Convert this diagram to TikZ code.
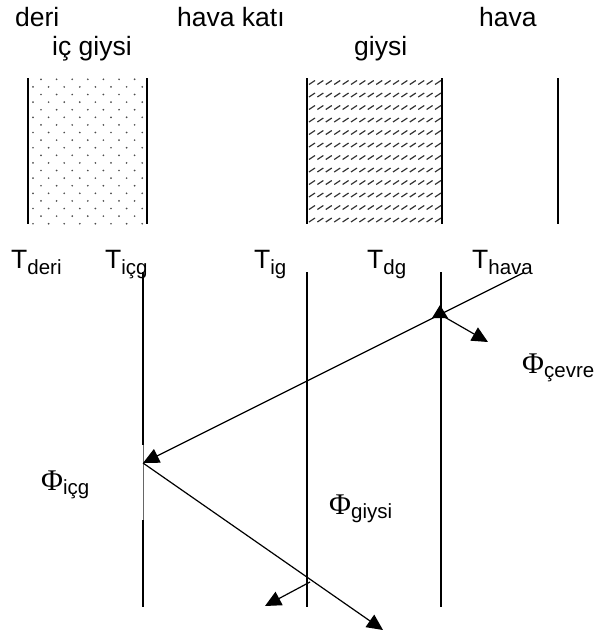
\documentclass[tikz,border=0pt]{standalone}
\usepackage{fontspec}
\setmainfont{Liberation Sans}
\newfontfamily\phifont{Liberation Serif}
\usetikzlibrary{arrows.meta}
\newcommand{\mysub}[1]{\raisebox{-6.5pt}{\fontsize{20.5}{20.5}\selectfont #1}}
\newcommand{\Tlab}[1]{T\mysub{#1}}
\newcommand{\Philab}[1]{{\phifont\fontsize{30}{30}\selectfont Φ}\raisebox{-4.5pt}{\fontsize{20.5}{20.5}\selectfont #1}}
\begin{document}
\begin{tikzpicture}[x=1pt,y=-1pt,
  lbl/.style={anchor=base west,inner sep=0,font=\fontsize{26.5}{30}\selectfont},
  wall/.style={line width=1.6pt},
  gridline/.style={line width=1.2pt},
  flow/.style={line width=1.2pt,-{Triangle[length=16pt,width=15pt]}}]
\useasboundingbox (0,0) rectangle (598,637);
% labels
\node[lbl] (deri) at (15,27) {deri};
\node[lbl] (icgiysi) at (52,55) {iç giysi};
\node[lbl] (havakati) at (177,27) {hava katı};
\node[lbl] (giysi) at (354,55) {giysi};
\node[lbl] (hava) at (479,27) {hava};
\node[lbl] (Tderi) at (11,268) {\Tlab{deri}};
\node[lbl] (Ticg) at (105,268) {\Tlab{içg}};
\node[lbl] (Tig) at (254,268) {\Tlab{ig}};
\node[lbl] (Tdg) at (367,268) {\Tlab{dg}};
\node[lbl] (Thava) at (472,268) {\Tlab{hava}};
\node[lbl] (Phicevre) at (522,373) {\Philab{çevre}};
\node[lbl] (Phiicg) at (41,490) {\Philab{içg}};
\node[lbl] (Phigiysi) at (329,514) {\Philab{giysi}};
% dotted layer
\begin{scope}
\clip (28,78) rectangle (147,224);
\foreach \i in {0,...,19} {
  \pgfmathsetmacro\yy{79.3+7.6*\i}
  \pgfmathsetmacro\xo{mod(\i,2)==0 ? 41 : 33}
  \foreach \j in {0,...,7} { \fill[black!70] (\xo+15.6*\j,\yy) circle[radius=0.95]; }
}
\end{scope}
% hatched layer
\begin{scope}
\clip (307,78) rectangle (442,224);
\foreach \k in {0,...,11} {
  \pgfmathsetmacro\yy{82.5+12.5*\k}
  \foreach \j in {0,...,16} { \draw[black!80,line width=1.2pt] (309+8.4*\j,\yy+2) -- ++(6,-4); }
}
\end{scope}
% walls
\draw[wall] (28,78) -- (28,224);
\draw[wall] (147,78) -- (147,224);
\draw[wall] (307,78) -- (307,224);
\draw[wall] (442,78) -- (442,224);
\draw[wall] (558,78) -- (558,224);
% temperature lines
\draw[gridline] (143,272) -- (143,445);
\draw[line width=0.4pt,black!60] (143,445) -- (143,520);
\draw[gridline] (143,520) -- (143,607);
\draw[gridline] (307,272) -- (307,607);
\draw[gridline] (441,272) -- (441,607);
% flows
\coordinate (hv) at (523,273);
\coordinate (pi) at (143,463);
\coordinate (pe) at (383,630);
\coordinate (x1) at (441,315);
\coordinate (c1) at (488,342);
\coordinate (x2) at (310,582);
\coordinate (g1) at (265,606);
\draw[flow] (hv) -- (pi);
\draw[flow] (pi) -- (pe);
\draw[flow] (x1) -- (c1);
\fill (432,318) -- (448,318) -- (440,305) -- cycle;
\draw[flow] (x2) -- (g1);
\end{tikzpicture}
\end{document}
